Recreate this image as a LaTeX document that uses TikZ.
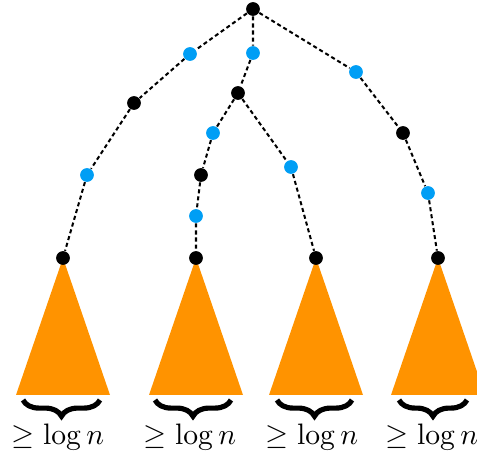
\documentclass[tikz,border=0pt]{standalone}
\usepackage{amsmath,amssymb}
\usetikzlibrary{decorations.pathreplacing,backgrounds,calc}
\definecolor{treeorange}{RGB}{255,147,0}
\definecolor{treeblue}{RGB}{0,158,245}

\begin{document}
\begin{tikzpicture}[x=0.37pt, y=-0.37pt,
  dot/.style={circle, fill=black, inner sep=0pt, minimum size=5.1pt},
  mid/.style={dot, fill=treeblue},
  edge/.style={line width=0.75pt, dash pattern=on 1.5pt off 1.1pt},
  subtree/.style={fill=treeorange},
  brc/.style={decorate, decoration={brace, mirror, amplitude=6pt}, line width=1.9pt},
  lbl/.style={inner sep=0pt, font=\fontsize{10.6}{12}\selectfont},
]
\useasboundingbox (0,0) rectangle (477,452);
% ---------------- nodes -----------------
\node[dot] (r) at (253,9) {};
% left branch
\node[mid] (a1) at (190,54) {};
\node[dot] (a2) at (134,103) {};
\node[mid] (a3) at (87,175) {};
\node[dot] (l1) at (63,258) {};
% middle branch
\node[mid] (b1) at (253,53) {};
\node[dot] (b2) at (238,93) {};
\node[mid] (c1) at (213,133) {};
\node[dot] (c2) at (201,175) {};
\node[mid] (c3) at (196,216) {};
\node[dot] (l2) at (196,258) {};
\node[mid] (d1) at (291,167) {};
\node[dot] (l3) at (316,258) {};
% right branch
\node[mid] (e1) at (356,72) {};
\node[dot] (e2) at (403,133) {};
\node[mid] (e3) at (428,193) {};
\node[dot] (l4) at (438,258) {};
% ---------------- edges and subtrees -----------------
\begin{scope}[on background layer]
  \draw[edge] (r) -- (a1) -- (a2) -- (a3) -- (l1);
  \draw[edge] (r) -- (b1) -- (b2);
  \draw[edge] (b2) -- (c1) -- (c2) -- (c3) -- (l2);
  \draw[edge] (b2) -- (d1) -- (l3);
  \draw[edge] (r) -- (e1) -- (e2) -- (e3) -- (l4);
  \foreach \t in {l1,l2,l3,l4}
    \fill[subtree] (\t.center) -- ++(-47,137) -- ++(94,0) -- cycle;
\end{scope}
% ---------------- braces -----------------
\coordinate (s1a) at (23,400);  \coordinate (s1b) at (100,400);
\coordinate (s2a) at (155,400); \coordinate (s2b) at (231,400);
\coordinate (s3a) at (277,400); \coordinate (s3b) at (352,400);
\coordinate (s4a) at (399,400); \coordinate (s4b) at (467,400);
\draw[brc] (s1a) -- (s1b);
\draw[brc] (s2a) -- (s2b);
\draw[brc] (s3a) -- (s3b);
\draw[brc] (s4a) -- (s4b);
\node[lbl] (n1) at (58,437) {$\geq \log n$};
\node[lbl] (n2) at (190,437) {$\geq \log n$};
\node[lbl] (n3) at (312,437) {$\geq \log n$};
\node[lbl] (n4) at (432,437) {$\geq \log n$};
\end{tikzpicture}
\end{document}
